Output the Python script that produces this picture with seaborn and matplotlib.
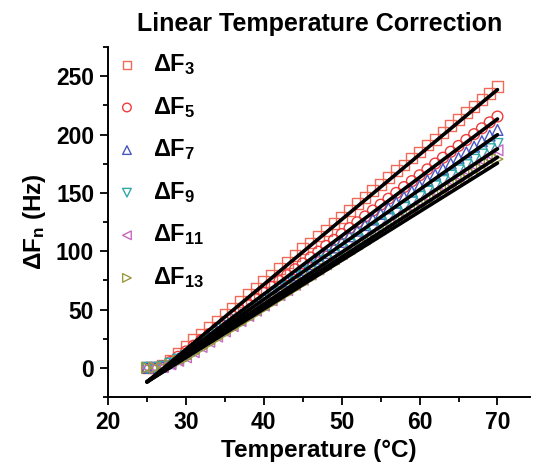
import numpy as np
import pandas as pd
import matplotlib
matplotlib.use("Agg")
import matplotlib.pyplot as plt
import seaborn as sns

sns.set_theme(style="ticks")
plt.rcParams['font.family'] = ['Liberation Sans', 'DejaVu Sans']
plt.rcParams['mathtext.fontset'] = 'custom'
plt.rcParams['mathtext.rm'] = 'Liberation Sans:bold'
plt.rcParams['mathtext.bf'] = 'Liberation Sans:bold'
plt.rcParams['mathtext.it'] = 'Liberation Sans:bold'
plt.rcParams['text.color'] = 'black'
plt.rcParams['axes.labelcolor'] = 'black'
plt.rcParams['xtick.color'] = 'black'
plt.rcParams['ytick.color'] = 'black'

temperature = list(range(25, 71))

F3 = [0, 0, 2, 6, 12, 18, 24, 29,
      35, 40, 46, 51, 57, 63, 68, 74, 79, 85,
      90, 96, 102, 107, 113, 118, 124, 129, 135, 141,
      146, 152, 157, 163, 169, 174, 180, 185, 191, 196,
      202, 208, 213, 219, 224, 230, 235, 241]
F5 = [0, 0, 1.5, 5, 9.5, 14, 19, 24,
      29.0, 34.1, 39.1, 44.2, 49.2, 54.2, 59.3, 64.3, 69.4, 74.4,
      79.4, 84.5, 89.5, 94.6, 99.6, 104.6, 109.7, 114.7, 119.8, 124.8,
      129.8, 134.9, 139.9, 145.0, 150.0, 155.0, 160.1, 165.1, 170.2, 175.2,
      180.2, 185.3, 190.3, 195.4, 200.4, 205.4, 210.5, 215.5]
F7 = [0, 0, 1, 4, 8, 12, 16.8, 21.6,
      26.4, 31.2, 36.0, 40.8, 45.6, 50.4, 55.2, 60.0, 64.8, 69.6,
      74.4, 79.2, 84.0, 88.8, 93.6, 98.4, 103.2, 108.0, 112.8, 117.6,
      122.4, 127.2, 132.0, 136.8, 141.6, 146.4, 151.2, 156.0, 160.8, 165.6,
      170.4, 175.2, 180.0, 184.8, 189.6, 194.4, 199.2, 204.0]
F9 = [0, 0, 1, 3.5, 7, 10, 14.5, 19.1,
      23.7, 28.2, 32.8, 37.3, 41.9, 46.4, 51.0, 55.5, 60.1, 64.6,
      69.2, 73.7, 78.3, 82.8, 87.4, 91.9, 96.5, 101.0, 105.6, 110.1,
      114.7, 119.2, 123.8, 128.3, 132.9, 137.4, 142.0, 146.5, 151.1, 155.6,
      160.2, 164.7, 169.3, 173.8, 178.4, 182.9, 187.5, 192.0]
F11 = [0, 0, 0.5, 3, 6, 9, 13.4, 17.9,
       22.3, 26.8, 31.2, 35.7, 40.1, 44.5, 49.0, 53.4, 57.9, 62.3,
       66.7, 71.2, 75.6, 80.1, 84.5, 88.9, 93.4, 97.8, 102.3, 106.7,
       111.1, 115.6, 120.0, 124.5, 128.9, 133.3, 137.8, 142.2, 146.7, 151.1,
       155.5, 160.0, 164.4, 168.9, 173.3, 177.7, 182.2, 186.6]
F13 = [0, 0, 0.5, 2.5, 5.5, 8, 12.2, 16.5,
       20.8, 25.1, 29.3, 33.6, 37.9, 42.2, 46.4, 50.7, 55.0, 59.3,
       63.5, 67.8, 72.1, 76.4, 80.7, 84.9, 89.2, 93.5, 97.8, 102.0,
       106.3, 110.6, 114.9, 119.1, 123.4, 127.7, 132.0, 136.2, 140.5, 144.8,
       149.1, 153.3, 157.6, 161.9, 166.2, 170.4, 174.7, 179.0]

harmonics = ["3", "5", "7", "9", "11", "13"]
series = [F3, F5, F7, F9, F11, F13]
fit_slope = [5.57, 5.01, 4.71, 4.44, 4.28, 4.17]
fit_intercept = [-151.3, -137.3, -129.8, -123.0, -119.0, -116.3]

colors = ["#F06A58", "#F03C3C", "#4858C0", "#30A8A8", "#C868C0", "#9A9A40"]
markers = ["s", "o", "^", "v", "<", ">"]

fig = plt.figure(figsize=(5.35, 4.67), dpi=100)
ax = fig.add_axes([0.202, 0.150, 0.789, 0.749])

for h, vals, c, m in zip(harmonics, series, colors, markers):
    df = pd.DataFrame({"T": temperature, "F": vals})
    sns.scatterplot(data=df, x="T", y="F", ax=ax, marker=m, s=60,
                    facecolor="none", edgecolor=c, linewidth=1.0,
                    label=r"$\Delta$F$_{%s}$" % h, zorder=2)

t_arr = np.array(temperature, dtype=float)
for a, b in zip(fit_intercept, fit_slope):
    sns.lineplot(x=t_arr, y=a + b * t_arr, ax=ax, color="black",
                 linewidth=2.6, zorder=3)

ax.set_xlim(20, 74.2)
ax.set_ylim(-25, 275)
ax.set_xticks([20, 30, 40, 50, 60, 70])
ax.set_xticks([25, 35, 45, 55, 65], minor=True)
ax.set_yticks([0, 50, 100, 150, 200, 250])
ax.set_yticks([-25, 25, 75, 125, 175, 225, 275], minor=True)
ax.tick_params(axis="both", which="major", length=6, width=1.3,
               labelsize=16.5, direction="out", pad=4, colors="black")
ax.tick_params(axis="both", which="minor", length=3.5, width=1.3,
               direction="out", colors="black")
for lab in ax.get_xticklabels() + ax.get_yticklabels():
    lab.set_fontweight("bold")

sns.despine(ax=ax)
for sp in ["left", "bottom"]:
    ax.spines[sp].set_linewidth(1.4)
    ax.spines[sp].set_color("black")

ax.set_xlabel("Temperature (\u00b0C)", fontsize=17.5, fontweight="bold",
              labelpad=4, color="black")
ax.set_ylabel(r"$\Delta$F$_{n}$ (Hz)", fontsize=17.5, fontweight="bold",
              labelpad=6, color="black")
ax.set_title("Linear Temperature Correction", fontsize=18,
             fontweight="bold", pad=12, color="black")

leg = ax.legend(loc="upper left", bbox_to_anchor=(-0.028, 1.04),
                frameon=False, fontsize=17, handletextpad=0.6,
                labelspacing=0.75, borderaxespad=0.4, handlelength=1.0,
                markerscale=0.8)
for t in leg.get_texts():
    t.set_fontweight("bold")
    t.set_color("black")

fig.savefig("out.png", dpi=100)
